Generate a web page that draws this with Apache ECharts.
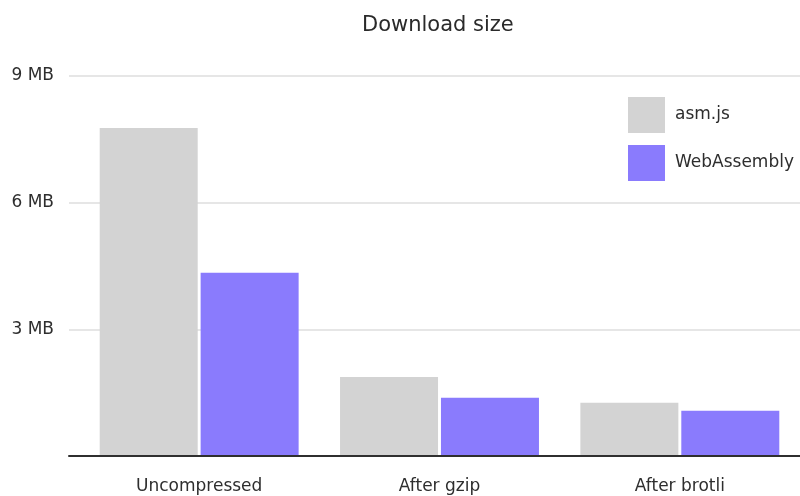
<!DOCTYPE html>
<html>
<head>
<meta charset="utf-8">
<script src="https://cdn.jsdelivr.net/npm/echarts@6/dist/echarts.min.js"></script>
<style>
  html, body { margin: 0; padding: 0; background: #fff; }
  #chart { width: 800px; height: 496px; }
</style>
</head>
<body>
<div id="chart"></div>
<script>
// Download size per build format, in megabytes
const categories = ['Uncompressed', 'After gzip', 'After brotli'];
const asmjsSizes = [7.77, 1.87, 1.26];
const wasmSizes = [4.34, 1.38, 1.07];
const seriesNames = ['asm.js', 'WebAssembly'];
const yTicks = [0, 3, 6, 9];
const yUnit = 'MB';

const FONT = 'DejaVu Sans';
const TEXT = '#2e2e2e';
const GREY = '#d3d3d3';
const PURPLE = '#8a7bfd';

const chart = echarts.init(document.getElementById('chart'), null, { renderer: 'canvas' });

const yMin = yTicks[0];
const yMax = yTicks[yTicks.length - 1];
const yStep = yTicks[1] - yTicks[0];

chart.setOption({
  animation: false,
  backgroundColor: '#ffffff',
  title: {
    text: 'Download size',
    left: 357,
    top: 10,
    textStyle: { fontFamily: FONT, fontSize: 21, fontWeight: 'normal', color: '#2a2a2a' }
  },
  legend: {
    orient: 'vertical',
    left: 628,
    top: 97,
    padding: 0,
    itemWidth: 37,
    itemHeight: 36,
    itemGap: 12,
    icon: 'rect',
    data: seriesNames,
    textStyle: { fontFamily: FONT, fontSize: 17, color: TEXT, padding: [3, 0, 0, 5] }
  },
  grid: [
    // frame: value gridlines and baseline
    { left: 69, right: 0, top: 76, bottom: 40 },
    // bars
    { left: 79, right: 0, top: 76, bottom: 40 }
  ],
  xAxis: [
    {
      gridIndex: 0, type: 'value', min: 0, max: 1, z: 5,
      axisLine: { show: true, lineStyle: { color: '#2f2f2f', width: 2 } },
      axisTick: { show: false }, axisLabel: { show: false }, splitLine: { show: false }
    },
    {
      gridIndex: 1, type: 'category', data: categories,
      axisLine: { show: false }, axisTick: { show: false },
      axisLabel: { margin: 22, fontFamily: FONT, fontSize: 17, color: TEXT }
    }
  ],
  yAxis: [
    {
      gridIndex: 0, type: 'value', min: yMin, max: yMax, interval: yStep,
      axisLine: { show: false }, axisTick: { show: false },
      axisLabel: {
        margin: 15, fontFamily: FONT, fontSize: 17, color: TEXT,
        formatter: v => (v === 0 ? '' : v + ' ' + yUnit)
      },
      splitLine: { show: true, lineStyle: { color: '#e6e6e6', width: 2 } }
    },
    {
      gridIndex: 1, type: 'value', min: yMin, max: yMax, interval: yStep, show: false
    }
  ],
  series: [
    {
      name: seriesNames[0], type: 'bar', xAxisIndex: 1, yAxisIndex: 1,
      data: asmjsSizes, barWidth: 98, barGap: '3%',
      itemStyle: { color: GREY }
    },
    {
      name: seriesNames[1], type: 'bar', xAxisIndex: 1, yAxisIndex: 1,
      data: wasmSizes, barWidth: 98, barGap: '3%',
      itemStyle: { color: PURPLE }
    }
  ]
});
</script>
</body>
</html>
